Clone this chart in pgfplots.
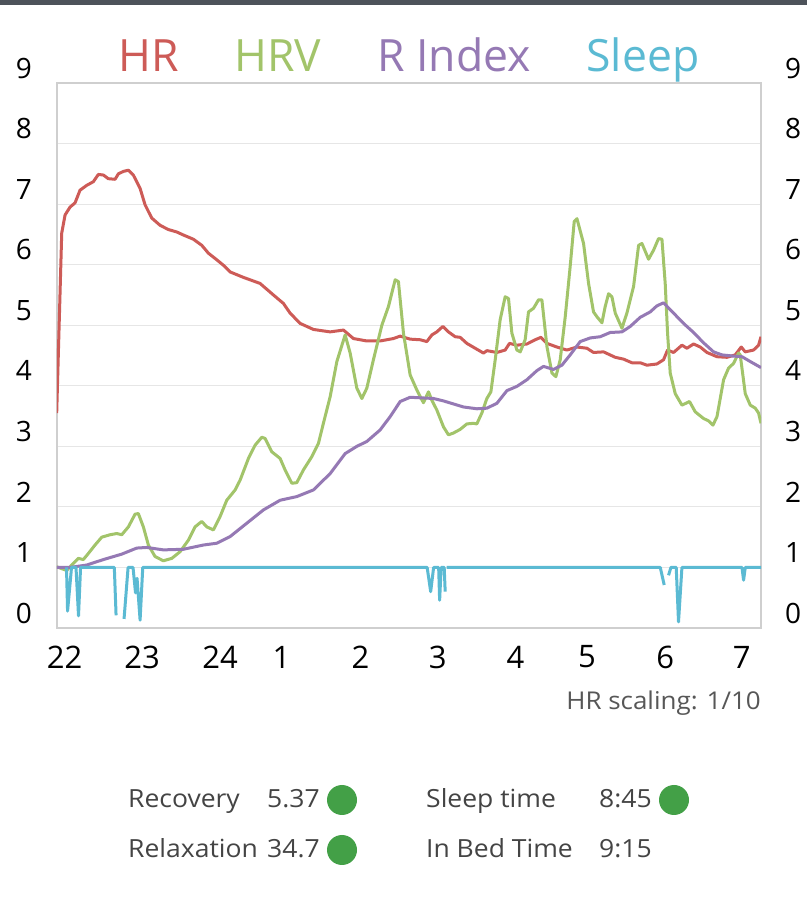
\documentclass[border=0pt]{standalone}
\usepackage{pgfplots}
\pgfplotsset{compat=1.18}
\usepackage{fontspec}
\setmainfont{Open Sans}
\newfontfamily\widefont{Open Sans}[FakeStretch=1.06]
\newfontfamily\notefont{Open Sans}[FakeStretch=1.06]
\definecolor{hr}{HTML}{CD5B57}
\definecolor{hrv}{HTML}{A2C46A}
\definecolor{ridx}{HTML}{9579B4}
\definecolor{sleep}{HTML}{5BBAD3}
\definecolor{gridc}{HTML}{E6E6E6}
\definecolor{framec}{HTML}{CFCFCF}
\definecolor{topbar}{HTML}{4D535A}
\definecolor{txt}{HTML}{444444}
\definecolor{dot}{HTML}{43A047}
\begin{document}
\begin{tikzpicture}[x=1pt,y=1pt]
\fill[white] (0,0) rectangle (807,897);
\fill[topbar] (0,892) rectangle (807,897);
\begin{axis}[
  at={(57pt,269pt)}, anchor=south west,
  scale only axis, width=704pt, height=545pt,
  xmin=0.118, xmax=9.378, ymin=0, ymax=9,
  axis line style={framec, line width=1.2pt},
  xtick={0.217,1.237,2.263,3.07,4.11,5.125,6.15,7.09,8.12,9.125},
  xticklabels={22,23,24,1,2,3,4,5,6,7},
  ytick={0,1,...,9},
  major tick length=0pt,
  ymajorgrids, grid style={gridc, line width=1.2pt},
  xticklabel style={font=\fontsize{31}{31}\selectfont, anchor=center, yshift=-29pt},
  yticklabel style={font=\fontsize{28}{28}\selectfont, anchor=center, xshift=-33pt, yshift=15pt},
  /pgf/number format/assume math mode=true,
  unbounded coords=jump,
  every axis plot/.append style={line width=3pt, line join=round, mark=none},
]
% HR (scaled 1/10)
\addplot[hr] coordinates {
(0.114,3.55) (0.180,6.52) (0.224,6.82) (0.289,6.95) (0.355,7.02) (0.421,7.23) (0.509,7.31) (0.596,7.37) (0.662,7.49) (0.728,7.48) (0.793,7.42) (0.882,7.41) (0.925,7.50) (0.991,7.54) (1.057,7.56) (1.122,7.48) (1.211,7.26) (1.276,6.99) (1.364,6.77) (1.474,6.65) (1.583,6.58) (1.693,6.54) (1.780,6.49) (1.912,6.42) (2.022,6.32) (2.109,6.19) (2.220,6.08) (2.307,5.99) (2.395,5.88) (2.570,5.79) (2.789,5.69) (2.964,5.50) (3.096,5.36) (3.184,5.20) (3.316,5.03) (3.491,4.93) (3.711,4.89) (3.886,4.92) (4.017,4.78) (4.193,4.74) (4.368,4.74) (4.543,4.78) (4.632,4.82) (4.763,4.77) (4.895,4.76) (4.983,4.73) (5.049,4.84) (5.114,4.89) (5.193,4.98) (5.267,4.89) (5.355,4.81) (5.421,4.80) (5.509,4.70) (5.618,4.62) (5.728,4.54) (5.772,4.58) (5.904,4.55) (6.013,4.59) (6.070,4.70) (6.167,4.67) (6.299,4.69) (6.408,4.76) (6.483,4.80) (6.562,4.70) (6.693,4.64) (6.825,4.59) (6.957,4.64) (7.088,4.62) (7.175,4.55) (7.307,4.56) (7.461,4.47) (7.570,4.44) (7.680,4.38) (7.789,4.38) (7.878,4.34) (8.009,4.36) (8.096,4.43) (8.149,4.59) (8.228,4.55) (8.338,4.67) (8.404,4.62) (8.491,4.69) (8.579,4.64) (8.667,4.55) (8.799,4.48) (8.930,4.47) (9.039,4.51) (9.118,4.64) (9.171,4.56) (9.280,4.59) (9.346,4.67) (9.378,4.81)
};
% HRV
\addplot[hrv] coordinates {
(0.114,1.01) (0.246,0.95) (0.312,1.04) (0.399,1.15) (0.464,1.13) (0.530,1.23) (0.618,1.37) (0.707,1.50) (0.816,1.54) (0.904,1.56) (0.970,1.54) (1.057,1.67) (1.145,1.88) (1.188,1.89) (1.254,1.67) (1.320,1.37) (1.408,1.18) (1.517,1.11) (1.628,1.15) (1.737,1.26) (1.846,1.45) (1.934,1.67) (2.022,1.76) (2.088,1.67) (2.175,1.62) (2.263,1.84) (2.351,2.11) (2.461,2.28) (2.526,2.44) (2.636,2.80) (2.724,3.02) (2.812,3.15) (2.855,3.13) (2.943,2.91) (3.053,2.80) (3.118,2.61) (3.207,2.39) (3.272,2.40) (3.359,2.61) (3.470,2.83) (3.557,3.05) (3.622,3.38) (3.711,3.82) (3.799,4.40) (3.908,4.84) (3.974,4.54) (4.062,3.96) (4.128,3.79) (4.193,3.96) (4.280,4.43) (4.391,5.00) (4.478,5.31) (4.566,5.75) (4.609,5.72) (4.675,4.87) (4.763,4.18) (4.851,3.93) (4.938,3.72) (5.004,3.90) (5.049,3.76) (5.114,3.60) (5.202,3.32) (5.267,3.19) (5.333,3.22) (5.421,3.28) (5.509,3.37) (5.596,3.38) (5.640,3.37) (5.706,3.55) (5.772,3.79) (5.825,3.90) (5.882,4.43) (5.947,5.09) (6.013,5.47) (6.057,5.44) (6.101,4.87) (6.167,4.59) (6.211,4.56) (6.276,4.76) (6.320,5.22) (6.386,5.28) (6.452,5.42) (6.496,5.42) (6.562,4.65) (6.628,4.21) (6.680,4.15) (6.737,4.43) (6.803,5.14) (6.868,5.97) (6.921,6.71) (6.957,6.76) (7.044,6.35) (7.110,5.69) (7.175,5.22) (7.220,5.14) (7.286,5.04) (7.329,5.31) (7.373,5.52) (7.417,5.47) (7.461,5.20) (7.549,4.95) (7.614,5.20) (7.702,5.64) (7.768,6.32) (7.812,6.35) (7.899,6.09) (7.965,6.24) (8.030,6.43) (8.075,6.42) (8.118,5.69) (8.149,4.87) (8.184,4.21) (8.250,3.87) (8.338,3.68) (8.438,3.74) (8.513,3.57) (8.622,3.46) (8.688,3.42) (8.746,3.35) (8.799,3.49) (8.886,4.10) (8.951,4.29) (9.017,4.37) (9.083,4.54) (9.105,4.51) (9.171,3.87) (9.237,3.68) (9.303,3.63) (9.346,3.55) (9.378,3.38)
};
% R Index
\addplot[ridx] coordinates {
(0.114,1.00) (0.289,1.00) (0.509,1.04) (0.728,1.13) (0.970,1.22) (1.167,1.32) (1.299,1.33) (1.517,1.29) (1.780,1.30) (2.043,1.37) (2.220,1.40) (2.395,1.51) (2.614,1.73) (2.833,1.95) (3.053,2.11) (3.272,2.17) (3.491,2.28) (3.711,2.55) (3.908,2.88) (4.062,3.00) (4.193,3.08) (4.368,3.27) (4.500,3.49) (4.632,3.74) (4.763,3.81) (5.070,3.79) (5.201,3.75) (5.333,3.70) (5.464,3.65) (5.641,3.62) (5.772,3.63) (5.904,3.71) (6.036,3.92) (6.167,3.99) (6.299,4.10) (6.430,4.25) (6.517,4.32) (6.649,4.27) (6.759,4.34) (6.868,4.51) (7.000,4.73) (7.132,4.79) (7.263,4.81) (7.395,4.88) (7.549,4.89) (7.658,4.98) (7.789,5.13) (7.921,5.22) (8.009,5.32) (8.096,5.37) (8.228,5.20) (8.359,5.03) (8.491,4.88) (8.622,4.71) (8.754,4.56) (8.865,4.51) (9.017,4.49) (9.128,4.48) (9.237,4.40) (9.378,4.30)
};
% Sleep
\addplot[sleep] coordinates {
(0.243,1) (0.257,0.28) (0.309,1) (0.368,1) (0.401,0.20) (0.428,1) (0.872,1) (0.895,0.21) (0.92,nan) (1.000,0.15) (1.053,1) (1.118,1) (1.151,0.58) (1.171,0.82) (1.211,0.13) (1.246,1) (4.987,1) (5.033,0.60) (5.072,1) (5.138,1) (5.151,0.46) (5.171,1) (5.211,1) (5.224,0.60) (5.235,nan) (5.243,1) (8.053,1) (8.105,0.71) (8.13,nan) (8.162,0.87) (8.193,1) (8.263,1) (8.293,0.10) (8.338,1) (9.128,1) (9.149,0.79) (9.171,1) (9.382,1)
};
\end{axis}
% right-hand tick labels
\begin{axis}[
  at={(57pt,269pt)}, anchor=south west,
  scale only axis, width=704pt, height=545pt,
  xmin=0.118, xmax=9.378, ymin=0, ymax=9,
  hide x axis, axis y line*=right, y axis line style={draw=none},
  ytick={0,1,...,9}, major tick length=0pt,
  yticklabel style={font=\fontsize{28}{28}\selectfont, anchor=center, xshift=32pt, yshift=15pt},
  /pgf/number format/assume math mode=true,
]
\addplot[draw=none] coordinates {(1,1)};
\end{axis}
% legend
\begin{scope}[every node/.style={anchor=base, font=\fontsize{44.5}{44.5}\selectfont}]
\node[text=hr] at (148.5,825) {HR};
\node[text=hrv] at (278,825) {HRV};
\node[text=ridx] at (454,825) {R Index};
\node[text=sleep] at (643,825) {Sleep};
\end{scope}
% footnote
\node[anchor=base east, inner sep=0pt, text=txt!90, font=\notefont\fontsize{24.5}{24.5}\selectfont] at (761,187) {HR scaling: 1/10};
% summary
\begin{scope}[every node/.style={anchor=base west, inner sep=0pt, text=txt, font=\widefont\fontsize{25}{25}\selectfont}]
\node at (128,89) {Recovery};
\node at (267,89) {5.37};
\node at (128,39) {Relaxation};
\node at (267,39) {34.7};
\node at (426,89) {Sleep time};
\node at (599,89) {8:45};
\node at (426,39) {In Bed Time};
\node at (599,39) {9:15};
\end{scope}
\fill[dot] (342,97) circle [radius=15];
\fill[dot] (342,47) circle [radius=15];
\fill[dot] (674,97) circle [radius=15];
\end{tikzpicture}
\end{document}
